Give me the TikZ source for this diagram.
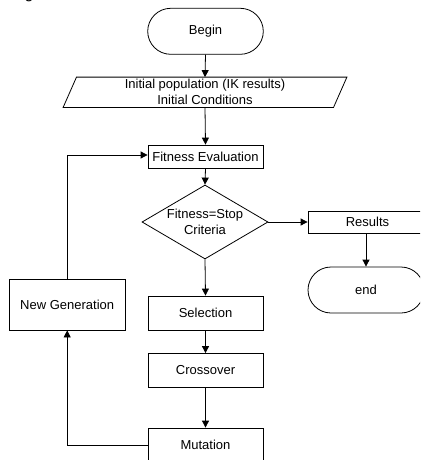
\documentclass[tikz,border=0pt]{standalone}
\usepackage{fontspec}
\setmainfont{Liberation Sans}
\usetikzlibrary{shapes.geometric,arrows.meta,calc}
\tikzset{
  base/.style={draw=black, line width=0.8pt, inner sep=0pt, font=\fontsize{13}{16}\selectfont, align=center},
  term/.style={base, rectangle, rounded corners=23pt, minimum width=115.6pt, minimum height=46pt},
  procbox/.style={base, rectangle, minimum width=115pt, minimum height=34pt},
  decision/.style={base, diamond, aspect=1.7, minimum width=126pt, minimum height=74pt},
  iobox/.style={inner sep=0pt, font=\fontsize{13}{16}\selectfont, align=center, minimum width=283.4pt, minimum height=30pt},
  conn/.style={line width=0.8pt, -{Triangle[length=7pt,width=7pt]}},
  edge/.style={line width=0.8pt}
}
\begin{document}
\begin{tikzpicture}[x=1pt,y=-1pt]
\useasboundingbox (0,0) rectangle (420,460);
\clip (0,0) rectangle (420,460);
\node[anchor=base, font=\fontsize{16}{18}\selectfont] (capg) at (29,-1) {g};
\node[term] (begin) at (205.5,31.3) {Begin};
\node[iobox] (init) at (205,92.3) {Initial population (IK results)\\Initial Conditions};
\draw[edge] ($(init.north west)+(13.4,0)$) -- (init.north east) -- ($(init.south east)+(-13.4,0)$) -- (init.south west) -- cycle;
\node[procbox, minimum height=23pt] (fe) at (205.5,156.5) {Fitness Evaluation};
\node[decision] (dia) at (205,222) {Fitness=Stop\\Criteria};
\node[procbox, minimum width=119pt, minimum height=22pt] (res) at (367.5,222) {Results};
\node[term, minimum width=116pt] (end) at (366,290) {end};
\node[procbox] (sel) at (205.5,313) {Selection};
\node[procbox] (cross) at (205.5,370.5) {Crossover};
\node[procbox] (mut) at (205.5,445) {Mutation};
\node[procbox, minimum width=115.7pt, minimum height=51pt] (ng) at (67.2,304.5) {New Generation};

\draw[conn] (begin.south) -- (init.north);
\draw[conn] (init.south) -- (fe.north);
\draw[conn] (fe.south) -- (dia.north);
\draw[conn] (dia.east) -- (res.west);
\draw[conn] (end.north |- res.south) -- (end.north);
\draw[conn] (dia.south) -- (sel.north);
\draw[conn] (sel.south) -- (cross.north);
\draw[conn] (cross.south) -- (mut.north);
\draw[conn] (mut.west) -| (ng.south);
\draw[conn] (ng.north) |- ([yshift=1.5pt]fe.west);
\end{tikzpicture}
\end{document}
